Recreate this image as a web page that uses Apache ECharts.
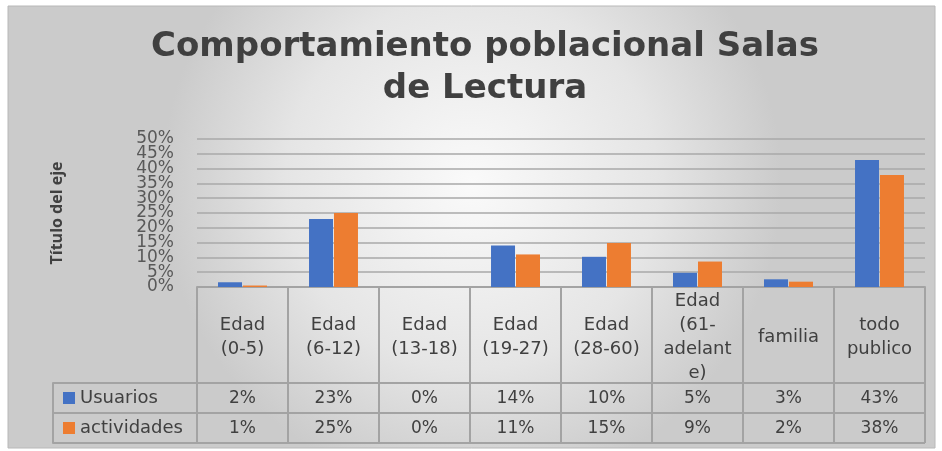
<!DOCTYPE html>
<html>
<head>
<meta charset="utf-8">
<script src="https://cdn.jsdelivr.net/npm/echarts@6/dist/echarts.min.js"></script>
<style>
  html, body { margin: 0; padding: 0; background: #fff; }
  #chart { width: 942px; height: 451px; }
</style>
</head>
<body>
<div id="chart"></div>
<script>
// categorias del eje x
var categorias = ['Edad\n(0-5)', 'Edad\n(6-12)', 'Edad\n(13-18)', 'Edad\n(19-27)', 'Edad\n(28-60)', 'Edad\n(61-\nadelant\ne)', 'familia', 'todo\npublico'];
// valores en %
var usuarios = [1.6, 23, 0, 14, 10.2, 4.8, 2.6, 42.9];
var actividades = [0.5, 25, 0, 11, 14.9, 8.6, 1.8, 37.8];
var yTicks = [0, 50, 5];   // min, max, intervalo

var colorTxt = '#404040';
var colorLinea = '#a3a3a3';
var fuente = 'DejaVu Sans';

function pct(v) { return Math.round(v) + '%'; }

// las etiquetas del eje y estan muy juntas: se reparten en dos ejes
// para que echarts no oculte ninguna
function etiquetaPar(v) { return (v % 10 === 0) ? v + '%' : ''; }
function etiquetaImpar(v) { return (v % 10 !== 0) ? v + '%' : ''; }

var chart = echarts.init(document.getElementById('chart'));

var ejeLabel = {
    margin: 23,
    fontFamily: fuente, fontSize: 17, color: '#595959'
};

var option = {
    backgroundColor: '#ffffff',
    title: {
        text: 'Comportamiento poblacional Salas\nde Lectura',
        left: 485,
        textAlign: 'center',
        top: 26,
        padding: 0,
        textStyle: {
            fontFamily: fuente,
            fontSize: 34,
            fontWeight: 'bold',
            lineHeight: 42,
            color: colorTxt
        }
    },
    graphic: [
        {
            type: 'rect',
            z: -10,
            silent: true,
            shape: { x: 8, y: 6, width: 927, height: 442 },
            style: {
                fill: {
                    type: 'radial', x: 0.5, y: 0.4, r: 0.7,
                    colorStops: [
                        { offset: 0, color: '#fafafa' },
                        { offset: 0.6, color: '#e5e5e5' },
                        { offset: 1, color: '#cbcbcb' }
                    ]
                },
                stroke: '#b8b8b8',
                lineWidth: 1
            }
        }
    ],
    legend: {
        orient: 'vertical',
        left: 63,
        top: 386,
        padding: 0,
        itemWidth: 12,
        itemHeight: 12,
        itemGap: 6,
        icon: 'rect',
        data: ['Usuarios', 'actividades'],
        textStyle: { fontFamily: fuente, fontSize: 18, lineHeight: 24, color: colorTxt }
    },
    grid: [
        { left: 197, right: 17, top: 139, bottom: 164 },
        { left: 53, right: 17, top: 383, bottom: 8 }
    ],
    xAxis: [
        {
            type: 'category',
            gridIndex: 0,
            data: categorias,
            axisLine: { lineStyle: { color: colorLinea, width: 2 } },
            axisTick: { show: true, interval: 0, length: 156, lineStyle: { color: colorLinea, width: 2 } },
            axisLabel: {
                interval: 0, margin: 50, verticalAlign: 'middle',
                fontFamily: fuente, fontSize: 18, lineHeight: 24, color: colorTxt
            }
        },
        {
            type: 'category',
            gridIndex: 0,
            position: 'bottom',
            offset: 96,
            data: usuarios.map(pct),
            axisLine: { show: false },
            axisTick: { show: false },
            axisLabel: {
                interval: 0, margin: 16, verticalAlign: 'middle',
                fontFamily: fuente, fontSize: 17, color: colorTxt
            }
        },
        {
            type: 'category',
            gridIndex: 0,
            position: 'bottom',
            offset: 126,
            data: actividades.map(pct),
            axisLine: { show: false },
            axisTick: { show: false },
            axisLabel: {
                interval: 0, margin: 16, verticalAlign: 'middle',
                fontFamily: fuente, fontSize: 17, color: colorTxt
            }
        },
        { type: 'value', gridIndex: 1, show: false }
    ],
    yAxis: [
        {
            type: 'value',
            gridIndex: 0,
            min: yTicks[0],
            max: yTicks[1],
            interval: yTicks[2],
            name: 'Título del eje',
            nameLocation: 'middle',
            nameRotate: 90,
            nameGap: 132,
            nameTextStyle: { fontFamily: 'Open Sans', fontSize: 16, fontWeight: 'bold', color: colorTxt },
            axisLine: { show: false },
            axisTick: { show: false },
            axisLabel: Object.assign({ formatter: etiquetaPar, showMinLabel: true, showMaxLabel: true }, ejeLabel),
            splitLine: { lineStyle: { color: '#a8a8a8', width: 1.5 } }
        },
        {
            type: 'value',
            gridIndex: 0,
            position: 'left',
            min: yTicks[0],
            max: yTicks[1],
            interval: yTicks[2],
            axisLine: { show: false },
            axisTick: { show: false },
            axisLabel: Object.assign({ formatter: etiquetaImpar, showMinLabel: false, showMaxLabel: false }, ejeLabel),
            splitLine: { show: false }
        },
        {
            type: 'category',
            gridIndex: 1,
            data: ['', ''],
            axisLine: { show: true, lineStyle: { color: colorLinea, width: 2 } },
            axisTick: { show: false },
            axisLabel: { show: false },
            splitLine: { show: true, lineStyle: { color: colorLinea, width: 2 } }
        }
    ],
    series: [
        {
            name: 'Usuarios',
            type: 'bar',
            xAxisIndex: 0,
            yAxisIndex: 0,
            barWidth: 24,
            barGap: '4%',
            itemStyle: { color: '#4472C4' },
            data: usuarios
        },
        {
            name: 'actividades',
            type: 'bar',
            xAxisIndex: 0,
            yAxisIndex: 0,
            barWidth: 24,
            barGap: '4%',
            itemStyle: { color: '#ED7D31' },
            data: actividades
        }
    ]
};

chart.setOption(option);
</script>
</body>
</html>
